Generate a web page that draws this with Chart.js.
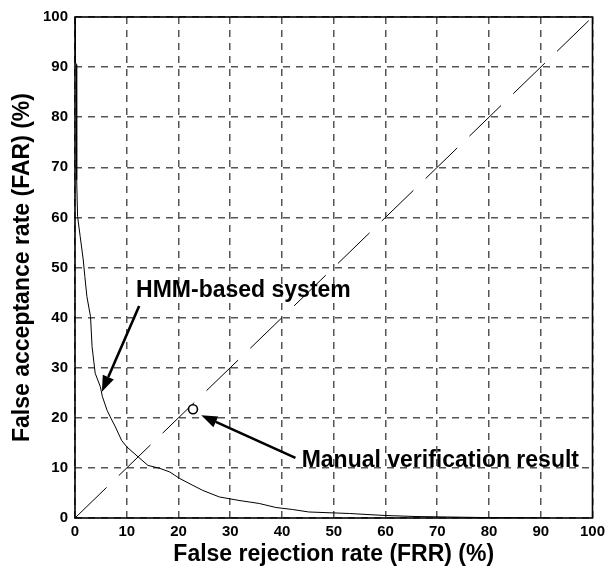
<!DOCTYPE html>
<html>
<head>
<meta charset="utf-8">
<script src="https://cdn.jsdelivr.net/npm/chart.js@4.4.1/dist/chart.umd.min.js"></script>
<style>
  html, body { margin: 0; padding: 0; background: #ffffff; }
  #wrap { width: 610px; height: 568px; }
</style>
</head>
<body>
<div id="wrap"><canvas id="roc" width="610" height="568"></canvas></div>
<script>
// Trade-off curve of the HMM-based system: false rejection rate vs false acceptance rate (%)
const hmmFrr = [0, 0, 0.3, 0.3, 0.35, 0.5, 1.0, 1.6, 1.9, 2.3, 3.0, 3.3, 3.9, 4.9, 5.3, 6.2, 6.8, 7.8, 9.0, 10.0, 12.2, 14.1,
                16.4, 18.3, 20.2, 22.8, 24.7, 27.9, 31.7, 35.6, 38.8, 42.0, 45.2, 53.0, 59.9, 65.7, 72.0, 78.4, 85.0, 91.0];
const hmmFar = [100, 91, 90.5, 68, 67.5, 60.2, 56.2, 51.5, 48.2, 44.2, 40.2, 34.2, 28.9, 26.2, 24.2, 21.5, 20.2, 18.2, 15.5, 14.2, 12.2, 10.5,
                9.9, 9.2, 7.9, 6.5, 5.5, 4.2, 3.5, 2.9, 2.1, 1.7, 1.2, 0.9, 0.5, 0.3, 0.2, 0.1, 0.05, 0];

// Equal error rate diagonal (FRR = FAR)
const eerFrr = [0, 100];
const eerFar = [0, 100];

// Single operating point obtained by manual verification
const manualFrr = [22.8];
const manualFar = [21.7];

// Axis ticks
const tickValues = [0, 10, 20, 30, 40, 50, 60, 70, 80, 90, 100];

// Callout labels with arrows, in data coordinates (FRR, FAR)
const noteText = ['HMM-based system', 'Manual verification result'];
const noteAnchor = [[11.8, 45.4], [43.8, 11.4]];
const arrowTail = [[12.4, 42.3], [42.6, 12.0]];
const arrowTip = [[5.2, 25.2], [24.4, 20.5]];

const FONT = "'Liberation Sans', Arial, Helvetica, sans-serif";

function toPoints(xs, ys) {
  return xs.map((x, i) => ({ x: x, y: ys[i] }));
}

const calloutPlugin = {
  id: 'callouts',
  afterDatasetsDraw(chart) {
    const ctx = chart.ctx;
    const xs = chart.scales.x;
    const ys = chart.scales.y;
    const area = chart.chartArea;

    // box around the plotting area
    ctx.save();
    ctx.strokeStyle = '#000';
    ctx.lineWidth = 1.6;
    ctx.strokeRect(area.left, area.top, area.right - area.left, area.bottom - area.top);
    ctx.restore();

    // arrows
    for (let i = 0; i < arrowTail.length; i++) {
      const x0 = xs.getPixelForValue(arrowTail[i][0]);
      const y0 = ys.getPixelForValue(arrowTail[i][1]);
      const x1 = xs.getPixelForValue(arrowTip[i][0]);
      const y1 = ys.getPixelForValue(arrowTip[i][1]);
      const ang = Math.atan2(y1 - y0, x1 - x0);
      const headLen = 16, headHalf = 6;
      const bx = x1 - headLen * Math.cos(ang);
      const by = y1 - headLen * Math.sin(ang);
      ctx.save();
      ctx.strokeStyle = '#000';
      ctx.fillStyle = '#000';
      ctx.lineWidth = 2.6;
      ctx.beginPath();
      ctx.moveTo(x0, y0);
      ctx.lineTo(bx, by);
      ctx.stroke();
      ctx.beginPath();
      ctx.moveTo(x1, y1);
      ctx.lineTo(bx + headHalf * Math.sin(ang), by - headHalf * Math.cos(ang));
      ctx.lineTo(bx - headHalf * Math.sin(ang), by + headHalf * Math.cos(ang));
      ctx.closePath();
      ctx.fill();
      ctx.restore();
    }

    // callout texts
    ctx.save();
    ctx.fillStyle = '#000';
    ctx.font = 'bold 23px ' + FONT;
    ctx.textAlign = 'left';
    ctx.textBaseline = 'middle';
    for (let i = 0; i < noteText.length; i++) {
      ctx.fillText(noteText[i], xs.getPixelForValue(noteAnchor[i][0]), ys.getPixelForValue(noteAnchor[i][1]));
    }
    ctx.restore();
  }
};

const gridStyle = { color: '#555555', lineWidth: 1.5, drawTicks: false };
const borderStyle = { display: false, dash: [7, 6] };
const tickFont = { family: FONT, size: 15, weight: 'bold' };
const titleFont = { family: FONT, size: 23, weight: 'bold' };

new Chart(document.getElementById('roc'), {
  type: 'scatter',
  data: {
    datasets: [
      {
        label: 'HMM-based system',
        data: toPoints(hmmFrr, hmmFar),
        showLine: true,
        borderColor: '#000',
        borderWidth: 1,
        pointRadius: 0,
        tension: 0,
        order: 2
      },
      {
        label: 'EER line',
        data: toPoints(eerFrr, eerFar),
        showLine: true,
        borderColor: '#000',
        borderWidth: 1,
        borderDash: [44, 17],
        pointRadius: 0,
        order: 3
      },
      {
        label: 'Manual verification result',
        data: toPoints(manualFrr, manualFar),
        showLine: false,
        pointStyle: 'circle',
        pointRadius: 4.5,
        pointBorderWidth: 1.6,
        pointBorderColor: '#000',
        pointBackgroundColor: '#fff',
        order: 1
      }
    ]
  },
  options: {
    responsive: false,
    devicePixelRatio: 1,
    animation: false,
    events: [],
    layout: { padding: { left: 0, top: 17, right: 14, bottom: 0 } },
    plugins: {
      legend: { display: false },
      tooltip: { enabled: false },
      title: { display: false }
    },
    scales: {
      x: {
        type: 'linear',
        min: 0,
        max: 100,
        afterBuildTicks(scale) { scale.ticks = tickValues.map(v => ({ value: v })); },
        afterFit(scale) { scale.height = 50; },
        grid: gridStyle,
        border: borderStyle,
        ticks: { color: '#000', font: tickFont, padding: 5, maxRotation: 0, autoSkip: false },
        title: {
          display: true,
          text: 'False rejection rate (FRR) (%)',
          color: '#000',
          font: titleFont,
          padding: { top: 0, bottom: 0 }
        }
      },
      y: {
        type: 'linear',
        min: 0,
        max: 100,
        afterBuildTicks(scale) { scale.ticks = tickValues.map(v => ({ value: v })); },
        afterFit(scale) { scale.width = 75; },
        grid: gridStyle,
        border: borderStyle,
        ticks: { color: '#000', font: tickFont, padding: 7, autoSkip: false },
        title: {
          display: true,
          text: 'False acceptance rate (FAR) (%)',
          color: '#000',
          font: titleFont,
          padding: { top: 9, bottom: 0 }
        }
      }
    }
  },
  plugins: [calloutPlugin]
});
</script>
</body>
</html>
